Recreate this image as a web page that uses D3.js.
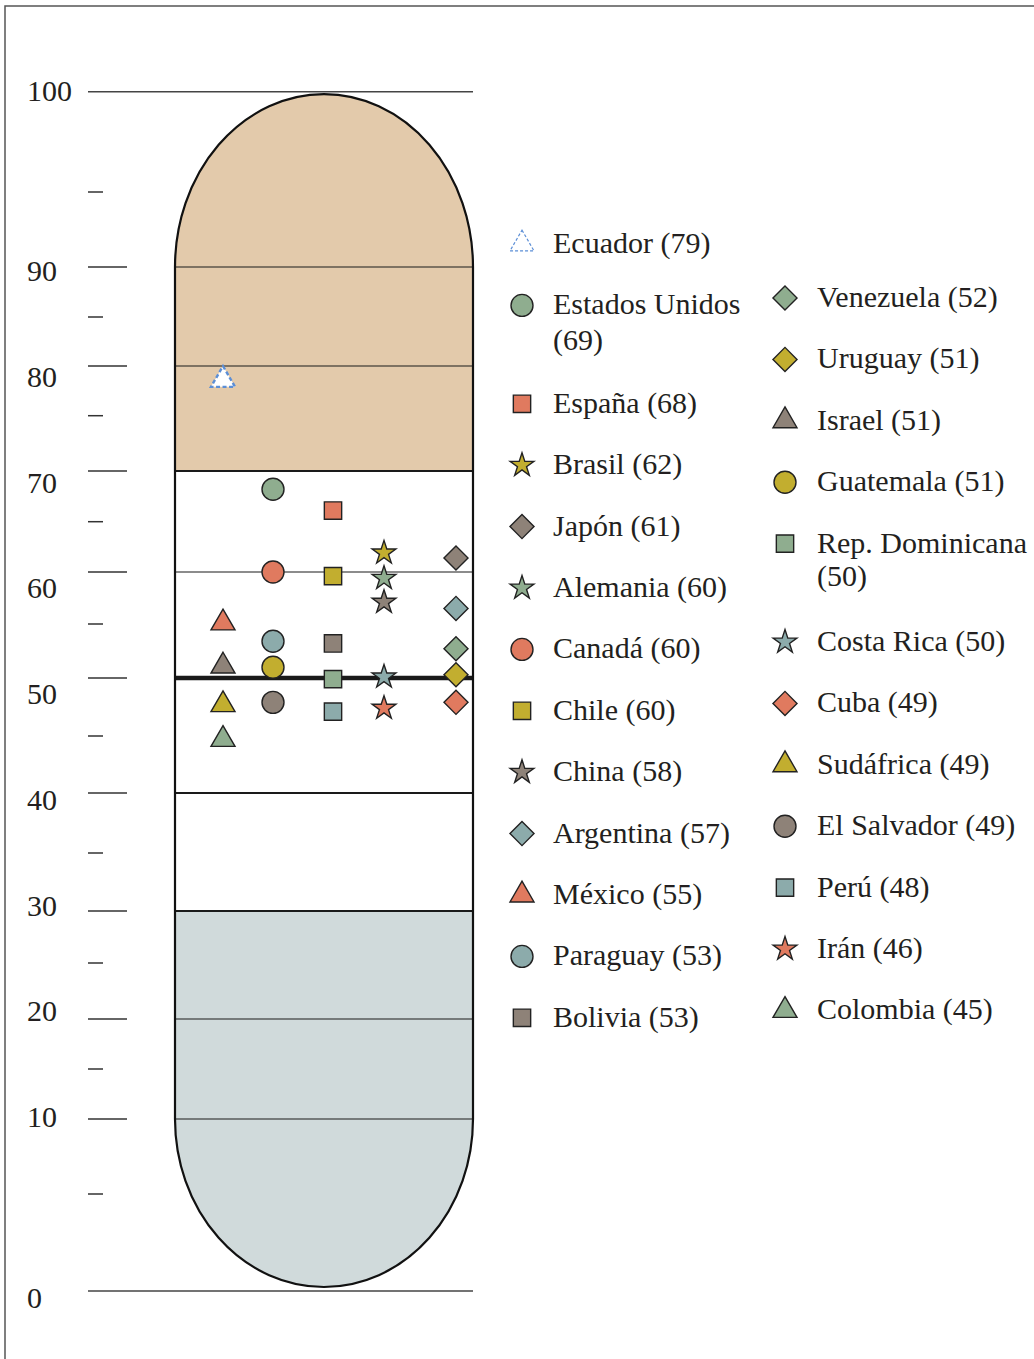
<!DOCTYPE html>
<meta charset="utf-8">
<style>
body {
  margin: 0;
  background: #fff;
}
text {
  font-family: "Liberation Serif", "Times New Roman", serif;
  font-size: 30px;
  fill: #231f20;
}
.frame {
  fill: none;
  stroke: #555;
  stroke-width: 1.5px;
}
.tick {
  stroke: #333;
  stroke-width: 1.5px;
}
.rule {
  stroke: #444;
  stroke-width: 1.5px;
}
.band {
  stroke: #1a1a1a;
}
.tube {
  fill: none;
  stroke: #111;
  stroke-width: 2.2px;
}
.marker {
  stroke: #222;
  stroke-width: 1.4px;
}
</style>
<body>
<script src="https://cdn.jsdelivr.net/npm/d3@7"></script>
<script>

// legend order, highest score first
var countries = ["Ecuador", "Estados Unidos", "España", "Brasil", "Japón", "Alemania",
  "Canadá", "Chile", "China", "Argentina", "México", "Paraguay", "Bolivia",
  "Venezuela", "Uruguay", "Israel", "Guatemala", "Rep. Dominicana", "Costa Rica",
  "Cuba", "Sudáfrica", "El Salvador", "Perú", "Irán", "Colombia"];

var scores = [79, 69, 68, 62, 61, 60, 60, 60, 58, 57, 55, 53, 53,
  52, 51, 51, 51, 50, 50, 49, 49, 49, 48, 46, 45];

// where each marker actually sits on the thermometer
var plotted = [78.6, 68.2, 66.1, 61.9, 61.4, 59.4, 60, 59.6, 57.1, 56.5, 55.1, 53.4, 53.2,
  52.7, 50.3, 51.1, 51.0, 49.9, 50.1, 47.9, 47.7, 47.9, 47.1, 47.4, 44.7];

var shapes = ["triangle", "circle", "square", "star", "diamond", "star",
  "circle", "square", "star", "diamond", "triangle", "circle", "square",
  "diamond", "diamond", "triangle", "circle", "square", "star",
  "diamond", "triangle", "circle", "square", "star", "triangle"];

var groups = ["open", "a", "b", "c", "d", "a", "b", "c", "d", "e", "b", "e", "d",
  "a", "c", "d", "c", "a", "e", "b", "c", "d", "e", "b", "a"];

var majorTicks = d3.range(10, 100, 10);
var minorTicks = d3.range(5, 100, 10);

var width = 1034,
    height = 1359;

// the printed scale is not evenly spaced, so map every 5 points
var y = d3.scaleLinear()
    .domain(d3.range(0, 101, 5))
    .range([1291, 1194, 1119, 1069, 1019, 963, 911, 853, 793, 736, 678,
            624, 572, 521.7, 471, 415.7, 366, 317, 267, 192, 91.7]);

var yLabel = d3.scaleLinear()
    .domain([0, 10, 90, 100])
    .range([1308, 1127, 281, 101]);

var colX = d3.scaleOrdinal()
    .domain(["triangle", "circle", "square", "star", "diamond"])
    .range([223, 273, 333, 384, 456]);

var color = d3.scaleOrdinal()
    .domain(["a", "b", "c", "d", "e"])
    .range(["#8fad8f", "#e07a5f", "#c2ae2f", "#8e8278", "#8cabab"]);

var symbolType = {triangle: d3.symbolTriangle, circle: d3.symbolCircle,
  square: d3.symbolSquare, star: d3.symbolStar, diamond: d3.symbolSquare};
var symbolSize = {triangle: 250, circle: 380, square: 300, star: 175, diamond: 289};

var svg = d3.select("body").append("svg")
    .attr("width", width)
    .attr("height", height);

svg.append("path")
    .attr("class", "frame")
    .attr("d", "M5," + height + "V6H" + width);

// thermometer
var L = 175, R = 473, rx = (R - L) / 2;
var ryTop = y(90) - y(100) - 2.5,
    ryBot = y(0) - y(10) - 4;
var tube = "M" + L + "," + y(90) +
    "A" + rx + "," + ryTop + " 0 0 1 " + R + "," + y(90) +
    "L" + R + "," + y(10) +
    "A" + rx + "," + ryBot + " 0 0 1 " + L + "," + y(10) + "Z";

svg.append("clipPath").attr("id", "tube-clip")
  .append("path").attr("d", tube);

var zones = [
  {from: 105, to: 70, fill: "#e3caab"},
  {from: 70, to: 30, fill: "#ffffff"},
  {from: 30, to: -5, fill: "#d0dadb"}
];

svg.append("g").attr("clip-path", "url(#tube-clip)")
  .selectAll("rect")
    .data(zones)
  .enter().append("rect")
    .attr("x", L)
    .attr("width", R - L)
    .attr("y", function(d) { return y(d.from); })
    .attr("height", function(d) { return y(d.to) - y(d.from); })
    .attr("fill", function(d) { return d.fill; });

svg.append("g").selectAll("line")
    .data(majorTicks)
  .enter().append("line")
    .attr("class", "band")
    .attr("x1", L).attr("x2", R)
    .attr("y1", y).attr("y2", y)
    .attr("stroke-width", function(d) {
      return d === 50 ? 4.5 : (d === 70 || d === 40 || d === 30) ? 2.2 : 1.2;
    });

svg.append("path")
    .attr("class", "tube")
    .attr("d", tube);

// scale on the left
svg.append("g").selectAll("line")
    .data([0, 100])
  .enter().append("line")
    .attr("class", "rule")
    .attr("x1", 88).attr("x2", R)
    .attr("y1", y).attr("y2", y);

svg.append("g").selectAll("line")
    .data(majorTicks)
  .enter().append("line")
    .attr("class", "tick")
    .attr("x1", 88).attr("x2", 127)
    .attr("y1", y).attr("y2", y);

svg.append("g").selectAll("line")
    .data(minorTicks)
  .enter().append("line")
    .attr("class", "tick")
    .attr("x1", 88).attr("x2", 103)
    .attr("y1", y).attr("y2", y);

svg.append("g").selectAll("text")
    .data(d3.range(0, 101, 10))
  .enter().append("text")
    .attr("x", 27)
    .attr("y", yLabel)
    .text(function(d) { return d; });

function marker(g, i, x, cy, small) {
  var s = shapes[i];
  var p = g.append("path")
      .attr("d", d3.symbol().type(symbolType[s]).size(symbolSize[s])())
      .attr("transform", "translate(" + x + "," + cy + ")" + (s === "diamond" ? " rotate(45)" : ""));
  if (groups[i] === "open") {
    p.attr("fill", "#fff")
     .attr("stroke", "#5b8ed6")
     .attr("stroke-width", small ? 1.2 : 2.4)
     .attr("stroke-dasharray", small ? "3,2" : "4,2.5");
  } else {
    p.attr("class", "marker").attr("fill", color(groups[i]));
  }
}

var dots = svg.append("g");
countries.forEach(function(c, i) {
  marker(dots, i, colX(shapes[i]), y(plotted[i]), false);
});

// legend in two columns
var half = Math.ceil(countries.length / 2);
var legendCols = [{mx: 522, tx: 553, y0: 253, lead: 36}, {mx: 785, tx: 817, y0: 307, lead: 33}];
var legend = svg.append("g");

legendCols.forEach(function(col, c) {
  var ty = col.y0;
  d3.range(c ? half : 0, c ? countries.length : half).forEach(function(i) {
    var t = legend.append("text")
        .attr("x", col.tx)
        .attr("y", ty)
        .text(countries[i] + " (" + scores[i] + ")");
    var extra = 0;
    if (t.node().getComputedTextLength() > 222) {
      t.text(null);
      t.append("tspan").attr("x", col.tx).text(countries[i]);
      t.append("tspan").attr("x", col.tx).attr("dy", col.lead).text("(" + scores[i] + ")");
      extra = 37;
    }
    marker(legend, i, col.mx, ty - 9, true);
    ty += 61.4 + extra;
  });
});

</script>
